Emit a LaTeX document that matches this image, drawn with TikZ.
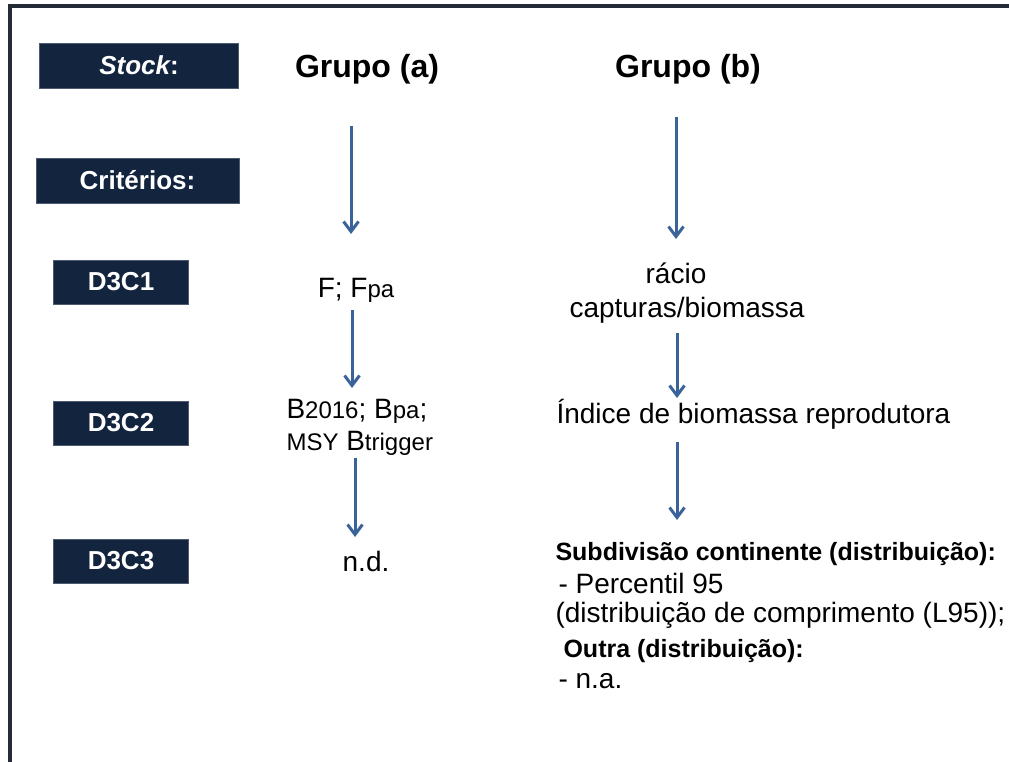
\documentclass[tikz,border=0pt]{standalone}
\usepackage{fontspec}
\setmainfont{Liberation Sans}
\usetikzlibrary{arrows.meta}
\definecolor{navy}{HTML}{13243F}
\definecolor{framegray}{HTML}{242A36}
\definecolor{flowblue}{HTML}{3A6499}
\newcommand{\fsz}[2]{\fontsize{#1}{#2}\selectfont}
\begin{document}
\begin{tikzpicture}[x=1pt,y=-1pt,
	crit/.style={fill=navy,draw=navy!75!white,line width=0.6pt,text=white,
		font=\fsz{26}{30}\bfseries,inner sep=0pt,minimum height=44pt},
	grp/.style={font=\fsz{32}{36}\bfseries,anchor=base},
	txt/.style={font=\fsz{28}{32},anchor=base},
	flow/.style={flowblue,line width=3pt,-{Straight Barb[length=10pt,width=15pt]}}]
		
		\useasboundingbox (0,0) rectangle (1009,762);
		\fill[white] (0,0) rectangle (1009,762);
		
		% frame
		\draw[framegray,line width=4pt] (10,770) -- (10,6) -- (1015,6);
		
		% left column
		\node[crit,minimum width=199pt,minimum height=45pt] (stock) at (139,65.5) {\itshape Stock\upshape:};
		\node[crit,minimum width=203pt,minimum height=45pt] (crits) at (137.5,180.5) {Critérios:};
		\foreach \nm/\y in {D3C1/282, D3C2/423, D3C3/561}
		\node[crit,minimum width=135pt] (\nm) at (121,\y) {\nm};
		
		% headers
		\node[grp] (ga) at (367,78) {Grupo (a)};
		\node[grp] (gb) at (688,78) {Grupo (b)};
		
		% grupo (a)
		\node[txt] (fa) at (356,297) {F; F{\fsz{24}{24}pa}};
		\node[txt,anchor=base west,align=left] (ba) at (283,450)
			{B{\fsz{24}{24}2016}; B{\fsz{24}{24}pa};\\{\fsz{24}{24}MSY} B{\fsz{24}{24}trigger}};
		\node[txt] (nd) at (366,571) {n.d.};
		
		% grupo (b)
		\node[txt] (rac) at (676,283) {rácio};
		\node[txt] (capt) at (687,317) {capturas/biomassa};
		\node[txt,anchor=base west] (idx) at (553,423) {Índice de biomassa reprodutora};
		\node[txt,anchor=base west,font=\fsz{25}{29}\bfseries] (sub) at (552,560) {Subdivisão continente (distribuição):};
		\node[txt,anchor=base west,align=left,font=\fsz{28}{29}] (perc) at (552,622)
			{\hspace*{3pt}- Percentil 95\\(distribuição de comprimento (L95));};
		\node[txt,anchor=base west,font=\fsz{25}{29}\bfseries] (outra) at (560,657) {Outra (distribuição):};
		\node[txt,anchor=base west] (na) at (555,688) {- n.a.};
		
		% arrows
		\foreach \x/\ya/\yb [count=\i] in {351/126/234, 352/310/388, 355/458/537,
			676/117/239, 677/333/398, 677/442/520}
		{
			\coordinate (s\i) at (\x,\ya);
			\coordinate (e\i) at (\x,\yb);
			\draw[flow] (s\i) -- (e\i);
		}
		
	\end{tikzpicture}
\end{document}
